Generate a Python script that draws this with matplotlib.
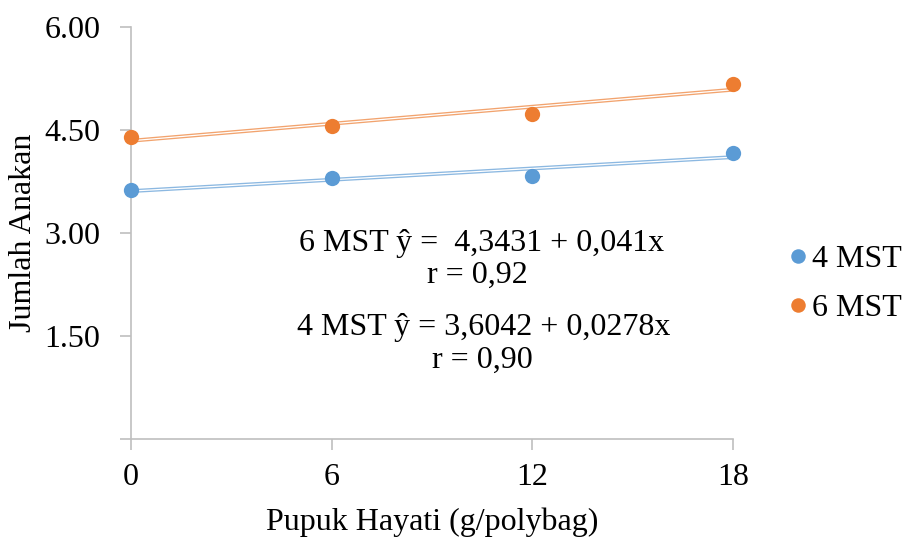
import matplotlib
matplotlib.use("Agg")
import matplotlib.pyplot as plt
import numpy as np

plt.rcParams['font.family'] = ['Liberation Serif', 'DejaVu Serif']

x_vals = [0, 6, 12, 18]
mst4 = [3.63, 3.80, 3.83, 4.17]
mst6 = [4.40, 4.56, 4.73, 5.17]
series_names = ["4 MST", "6 MST"]
colors = ["#5B9BD5", "#ED7D31"]
y_ticks = [0, 1.5, 3.0, 4.5, 6.0]
x_ticks = [0, 6, 12, 18]
eq6_lines = ["6 MST ŷ =  4,3431 + 0,041x", "r = 0,92"]
eq4_lines = ["4 MST ŷ = 3,6042 + 0,0278x", "r = 0,90"]

W, H = 906, 538
FS = 23
fig = plt.figure(figsize=(W / 100, H / 100), dpi=100)
ax = fig.add_axes([131 / W, 1 - 439 / H, (733 - 131) / W, (439 - 27) / H])

for ys, name, c in zip([mst4, mst6], series_names, colors):
    xs = np.array(x_vals, float)
    yv = np.array(ys, float)
    b, a = np.polyfit(xs, yv, 1)
    xl = np.array([x_vals[0], x_vals[-1]], float)
    ax.plot(xl, a + b * xl, color=c, lw=2.8, alpha=0.7, zorder=2, solid_capstyle='butt')
    ax.plot(xl, a + b * xl, color="white", lw=0.9, zorder=3, solid_capstyle='butt')
    ax.plot(xs, yv, 'o', color=c, markersize=11, label=name, zorder=4, clip_on=False,
            markeredgewidth=0)

ax.set_xlim(0, 18)
ax.set_ylim(0, 6)
ax.set_xticks(x_ticks)
ax.set_xticklabels([str(v) for v in x_ticks])
ax.set_yticks(y_ticks)
ax.set_yticklabels(["" if v == 0 else f"{v:.2f}" for v in y_ticks])

for s in ["top", "right"]:
    ax.spines[s].set_visible(False)
for s in ["left", "bottom"]:
    ax.spines[s].set_color("#BFBFBF")
    ax.spines[s].set_linewidth(1.2)
ax.tick_params(axis='both', colors="#BFBFBF", length=8, width=1.2, labelsize=FS,
               labelcolor="black")
ax.tick_params(axis='x', pad=9)
ax.tick_params(axis='y', pad=14)

ax.set_xlabel("Pupuk Hayati (g/polybag)", fontsize=FS)
ax.xaxis.set_label_coords(0.5, -(522 - 439) / (439 - 27))
ax.xaxis.label.set_va('center')
ax.set_ylabel("Jumlah Anakan", fontsize=FS)
ax.yaxis.set_label_coords(-(131 - 23) / (733 - 131), 0.5)
ax.yaxis.label.set_va('center')

def ftext(px, py, s):
    fig.text(px / W, 1 - py / H, s, ha='center', va='center', fontsize=FS)

ftext(482, 243, eq6_lines[0])
ftext(477, 275, eq6_lines[1])
ftext(484, 328, eq4_lines[0])
ftext(482, 360, eq4_lines[1])

leg = ax.legend(loc='center left', bbox_to_anchor=(772 / W, 1 - 284 / H),
                bbox_transform=fig.transFigure, frameon=False, fontsize=FS,
                handletextpad=0.05, handlelength=0.8, markerscale=0.95,
                labelspacing=0.6, borderaxespad=0)
fig.savefig("out.png", dpi=100)
